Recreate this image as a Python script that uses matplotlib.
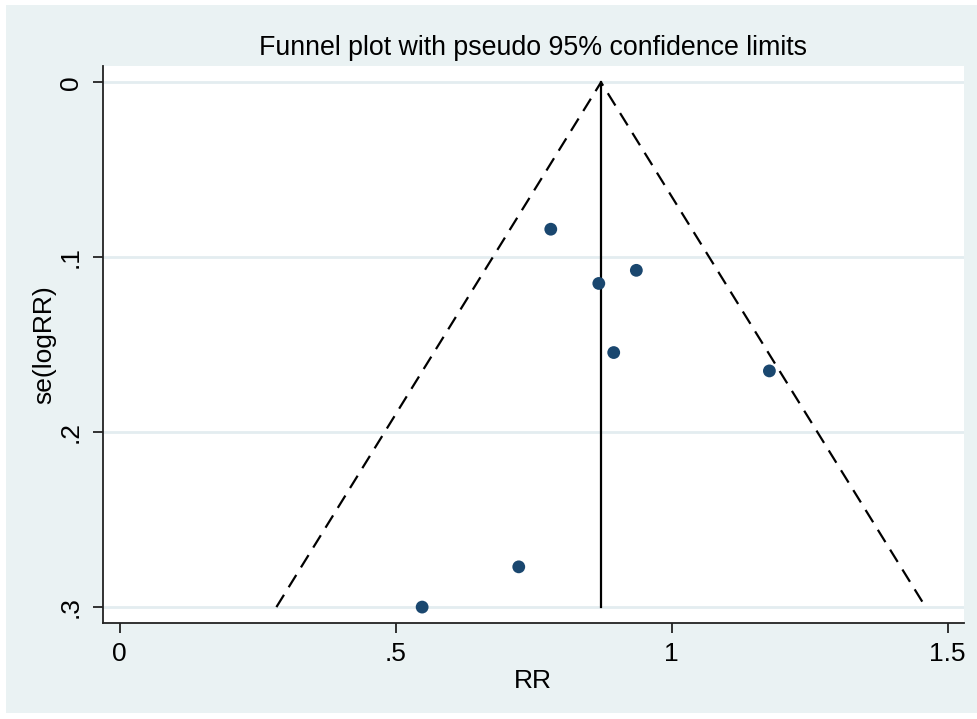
import matplotlib.pyplot as plt
from matplotlib.patches import Rectangle

# 研究数据
rr = [0.781, 0.868, 0.936, 0.895, 1.177, 0.723, 0.548]
se_logrr = [0.084, 0.115, 0.1075, 0.1545, 0.165, 0.277, 0.300]

# 合并效应与漏斗范围
pooled_rr = 0.872
se_max = 0.30
z = 1.96

x_ticks = [0, 0.5, 1, 1.5]
x_labels = ['0', '.5', '1', '1.5']
y_ticks = [0, 0.1, 0.2, 0.3]
y_labels = ['0', '.1', '.2', '.3']

W, H = 977, 719
plt.rcParams['font.family'] = ['Liberation Sans', 'DejaVu Sans']

fig = plt.figure(figsize=(W / 100, H / 100), dpi=100, facecolor='white')
# 外部浅蓝灰背景
fig.patches.append(Rectangle((6 / W, 6 / H), 1 - 6 / W, 1 - 11 / H,
                             transform=fig.transFigure, facecolor='#EAF2F3',
                             edgecolor='none', zorder=-10))

ax = fig.add_axes([102.5 / W, 1 - 623 / H, (964 - 102.5) / W, (623 - 66) / H])
ax.set_zorder(1)
ax.set_facecolor('white')

# 网格线
for yt in y_ticks:
    ax.axhline(yt, color='#E3EDF0', lw=2, zorder=1)

# 漏斗线（伪95%置信限）
ax.plot([pooled_rr - z * se_max, pooled_rr, pooled_rr + z * se_max],
        [se_max, 0, se_max], color='black', lw=1.6, ls=(0, (6.5, 4)), zorder=2)
# 合并效应竖线
ax.plot([pooled_rr, pooled_rr], [0, se_max], color='black', lw=1.6, zorder=2)

# 研究点
ax.scatter(rr, se_logrr, s=85, color='#1A476F', edgecolors='none', zorder=3)

ax.set_xlim(-0.031, 1.5295)
ax.set_ylim(0.3091, -0.0093)

ax.set_xticks(x_ticks)
ax.set_xticklabels(x_labels)
ax.set_yticks(y_ticks)
ax.set_yticklabels(y_labels, rotation=90, va='center')

for s in ['top', 'right']:
    ax.spines[s].set_visible(False)
for s in ['left', 'bottom']:
    ax.spines[s].set_linewidth(1.3)
    ax.spines[s].set_color('#222222')

ax.tick_params(axis='both', direction='out', length=7, width=1.3,
               color='#222222', labelsize=19, pad=7)
ax.tick_params(axis='x', pad=7)

ax.set_xlabel('RR', fontsize=19, labelpad=2)
ax.set_ylabel('se(logRR)', fontsize=19, labelpad=2)
ax.set_title('Funnel plot with pseudo 95% confidence limits', fontsize=19.3, pad=8)

fig.savefig('out.png', dpi=100, facecolor=fig.get_facecolor())
